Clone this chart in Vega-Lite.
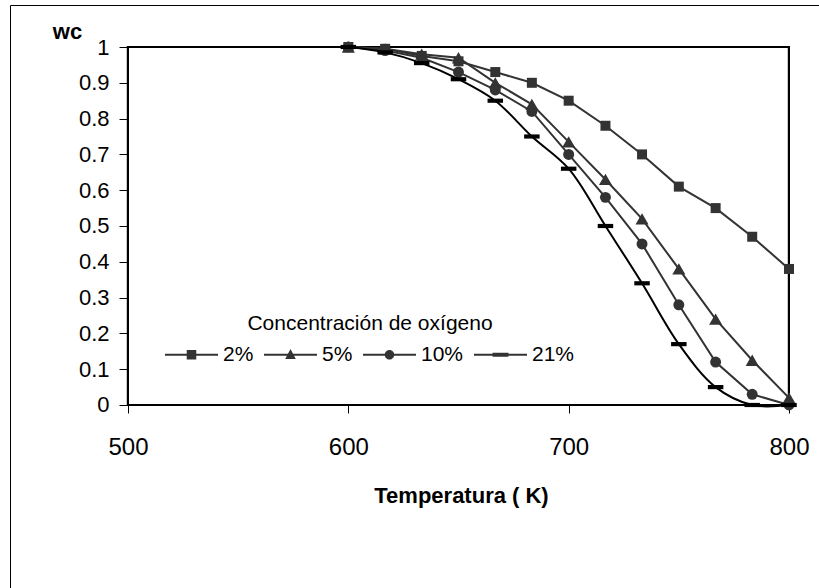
{
  "$schema": "https://vega.github.io/schema/vega-lite/v6.json",
  "width": 810,
  "height": 584,
  "autosize": {"type": "none"},
  "padding": {"left": 10, "top": 5, "right": 0, "bottom": 0},
  "background": "white",
  "config": {"view": {"stroke": "black", "strokeWidth": 1}, "font": "Liberation Sans"},
  "data": {
    "values": [
      {"T": 600, "c": "2%", "wc": 1}, {"T": 616.7, "c": "2%", "wc": 0.995}, {"T": 633.3, "c": "2%", "wc": 0.975}, {"T": 650, "c": "2%", "wc": 0.96}, {"T": 666.7, "c": "2%", "wc": 0.93}, {"T": 683.3, "c": "2%", "wc": 0.9}, {"T": 700, "c": "2%", "wc": 0.85}, {"T": 716.7, "c": "2%", "wc": 0.78}, {"T": 733.3, "c": "2%", "wc": 0.7}, {"T": 750, "c": "2%", "wc": 0.61}, {"T": 766.7, "c": "2%", "wc": 0.55}, {"T": 783.3, "c": "2%", "wc": 0.47}, {"T": 800, "c": "2%", "wc": 0.38},
      {"T": 600, "c": "5%", "wc": 1}, {"T": 616.7, "c": "5%", "wc": 0.995}, {"T": 633.3, "c": "5%", "wc": 0.98}, {"T": 650, "c": "5%", "wc": 0.97}, {"T": 666.7, "c": "5%", "wc": 0.9}, {"T": 683.3, "c": "5%", "wc": 0.84}, {"T": 700, "c": "5%", "wc": 0.735}, {"T": 716.7, "c": "5%", "wc": 0.63}, {"T": 733.3, "c": "5%", "wc": 0.52}, {"T": 750, "c": "5%", "wc": 0.38}, {"T": 766.7, "c": "5%", "wc": 0.24}, {"T": 783.3, "c": "5%", "wc": 0.125}, {"T": 800, "c": "5%", "wc": 0.02},
      {"T": 600, "c": "10%", "wc": 1}, {"T": 616.7, "c": "10%", "wc": 0.99}, {"T": 633.3, "c": "10%", "wc": 0.97}, {"T": 650, "c": "10%", "wc": 0.93}, {"T": 666.7, "c": "10%", "wc": 0.88}, {"T": 683.3, "c": "10%", "wc": 0.82}, {"T": 700, "c": "10%", "wc": 0.7}, {"T": 716.7, "c": "10%", "wc": 0.58}, {"T": 733.3, "c": "10%", "wc": 0.45}, {"T": 750, "c": "10%", "wc": 0.28}, {"T": 766.7, "c": "10%", "wc": 0.12}, {"T": 783.3, "c": "10%", "wc": 0.03}, {"T": 800, "c": "10%", "wc": 0.0},
      {"T": 600, "c": "21%", "wc": 1}, {"T": 616.7, "c": "21%", "wc": 0.985}, {"T": 633.3, "c": "21%", "wc": 0.955}, {"T": 650, "c": "21%", "wc": 0.91}, {"T": 666.7, "c": "21%", "wc": 0.85}, {"T": 683.3, "c": "21%", "wc": 0.75}, {"T": 700, "c": "21%", "wc": 0.66}, {"T": 716.7, "c": "21%", "wc": 0.5}, {"T": 733.3, "c": "21%", "wc": 0.34}, {"T": 750, "c": "21%", "wc": 0.17}, {"T": 766.7, "c": "21%", "wc": 0.05}, {"T": 783.3, "c": "21%", "wc": 0.0}, {"T": 800, "c": "21%", "wc": 0.0}
    ]
  },
  "encoding": {
    "x": {
      "field": "T", "type": "quantitative",
      "scale": {"domain": [446.445, 814.07], "nice": false, "zero": false},
      "axis": {
        "values": [500, 600, 700, 800], "format": "d", "domain": false, "grid": false,
        "tickSize": 8, "tickColor": "black", "tickWidth": 1,
        "labelFontSize": 24, "labelColor": "black", "labelPadding": 22, "labelFlush": false, "labelOverlap": false,
        "offset": -184,
        "title": "Temperatura ( K)", "titleFontSize": 22, "titleFontWeight": "bold", "titleColor": "black",
        "titleX": 451, "titleY": 97, "titleBaseline": "alphabetic", "titleAlign": "center"
      }
    },
    "y": {
      "field": "wc", "type": "quantitative",
      "scale": {"domain": [-0.51397, 1.11732], "nice": false, "zero": false},
      "axis": {
        "values": [0, 0.1, 0.2, 0.3, 0.4, 0.5, 0.6, 0.7, 0.8, 0.9, 1], "format": "~g", "domain": false, "grid": false,
        "tickSize": 9, "tickColor": "black", "tickWidth": 1,
        "labelFontSize": 22, "labelColor": "black", "labelPadding": 10, "labelFlush": false, "labelOverlap": false,
        "offset": -118,
        "title": "wc", "titleAngle": 0, "titleFontSize": 22, "titleFontWeight": "bold", "titleColor": "black",
        "titleX": -61, "titleY": 33, "titleBaseline": "alphabetic", "titleAlign": "center"
      }
    },
    "detail": {"field": "c", "type": "nominal"},
    "color": {"condition": {"test": "datum.c === '21%'", "value": "#000000"}, "value": "#333333"}
  },
  "layer": [
    {
      "mark": {"type": "rect", "filled": false, "stroke": "black", "strokeWidth": 2},
      "encoding": {
        "x": {"datum": 500, "type": "quantitative"},
        "x2": {"datum": 800},
        "y": {"datum": 0, "type": "quantitative"},
        "y2": {"datum": 1},
        "detail": null,
        "color": {"value": "black"}
      }
    },
    {
      "transform": [{"filter": "datum.c !== '21%'"}],
      "mark": {"type": "line", "strokeWidth": 2}
    },
    {
      "transform": [{"filter": "datum.c === '21%'"}],
      "mark": {"type": "line", "strokeWidth": 2, "interpolate": "catmull-rom"}
    },
    {
      "mark": {"type": "point", "filled": true, "opacity": 1, "strokeWidth": 0},
      "encoding": {
        "size": {"condition": [{"test": "datum.c === '2%'", "value": 100}, {"test": "datum.c === '5%'", "value": 170}, {"test": "datum.c === '10%'", "value": 120}], "value": 240},
        "shape": {"condition": [{"test": "datum.c === '2%'", "value": "square"}, {"test": "datum.c === '5%'", "value": "triangle-up"}, {"test": "datum.c === '10%'", "value": "circle"}], "value": "M-1,-0.27H1V0.27H-1Z"}
      }
    },
    {
      "mark": {"type": "point", "filled": true, "size": 0, "strokeWidth": 0},
      "encoding": {
        "shape": {
          "field": "c", "type": "nominal",
          "scale": {
            "domain": ["2%", "5%", "10%", "21%"],
            "range": [
              "M-1,-0.04H1V0.04H-1Z M-0.18,-0.18H0.18V0.18H-0.18Z",
              "M-1,-0.04H1V0.04H-1Z M0,-0.22L0.2,0.16H-0.2Z",
              "M-1,-0.04H1V0.04H-1Z M0.18,0A0.18,0.18 0 1,1 -0.18,0A0.18,0.18 0 1,1 0.18,0Z",
              "M-1,-0.04H1V0.04H-1Z M-0.3,-0.08H0.3V0.08H-0.3Z"
            ]
          },
          "legend": {
            "title": "Concentración de oxígeno", "titleLimit": 500, "titleAnchor": "middle",
            "orient": "none", "legendX": 155, "legendY": 308,
            "direction": "horizontal", "columns": 4,
            "symbolSize": 2809, "symbolStrokeWidth": 0, "symbolFillColor": "#333333", "symbolOpacity": 1,
            "labelFontSize": 21, "labelColor": "black", "labelOffset": 5, "labelLimit": 200,
            "titleFontSize": 21, "titleFontWeight": "normal", "titleColor": "black", "titlePadding": -6,
            "columnPadding": 10, "padding": 0
          }
        }
      }
    }
  ]
}
